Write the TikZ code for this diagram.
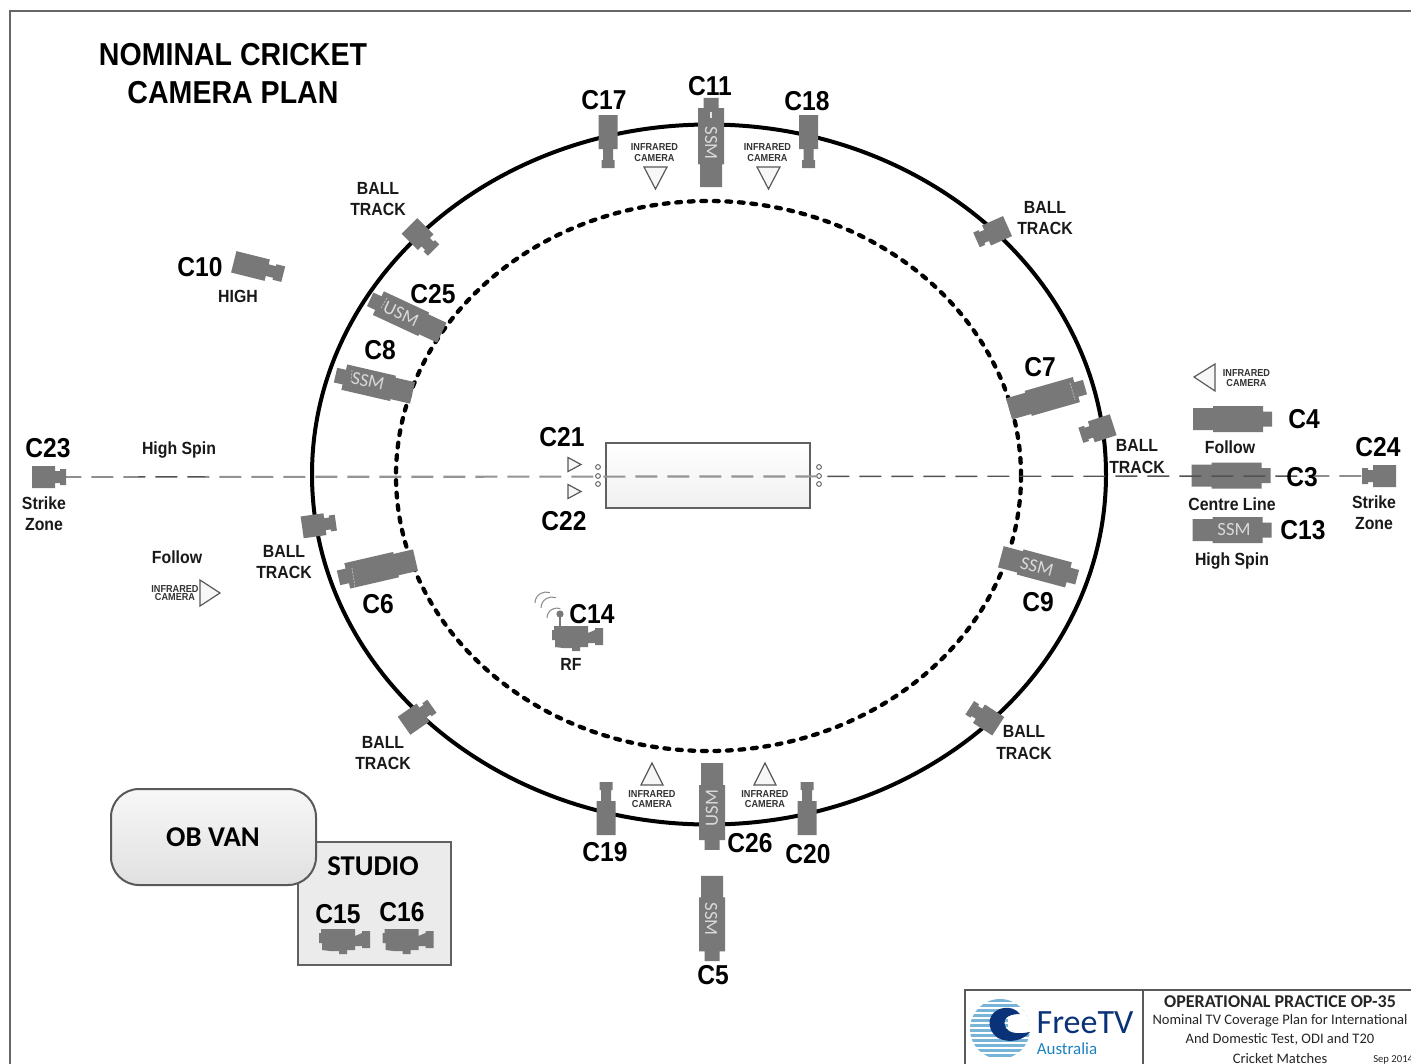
\documentclass[tikz,border=0pt]{standalone}
\usepackage{fontspec}
\setmainfont{Liberation Sans}
\newfontfamily\arn[FakeStretch=0.9]{Liberation Sans}
\newfontfamily\crl{Carlito}
\definecolor{camgray}{gray}{0.47}
\definecolor{fvblue}{RGB}{10,50,120}
\definecolor{fvsky}{RGB}{30,130,190}
\newcommand{\fsz}[2]{\fontsize{#1pt}{#2pt}\selectfont}
\tikzset{
 x=0.75pt,y=-0.75pt,
 bigl/.style={font=\arn\bfseries\fsz{20.5}{22},text=black,inner sep=0pt},
 medl/.style={font=\arn\bfseries\fsz{13.2}{15.8},text=black!90,inner sep=0pt,align=center},
 irl/.style={font=\arn\bfseries\fsz{7.6}{7.6},text=black!80,inner sep=0pt,align=center},
 camtxt/.style={font=\crl\fsz{14}{14},text=white!85!black,inner sep=0pt},
 camfill/.style={fill=camgray,draw=none},
 seam/.style={draw=white,opacity=0.6,line width=0.5pt,dash pattern=on 1.5pt off 1pt},
 tri/.style={draw=black!65,line width=0.9pt,fill=black!3,line join=miter},
 outerring/.style={draw=black,line width=3pt},
 innerring/.style={draw=black,line width=3.2pt,line cap=round,dash pattern=on 3.6pt off 5.8pt},
 centredark/.style={draw=black!68,line width=1.05pt,dash pattern=on 16.5pt off 7.5pt,dash phase=5pt},
 centrelight/.style={draw=black!42,line width=1.6pt,dash pattern=on 16.5pt off 7.5pt,dash phase=5pt},
 boxedge/.style={draw=black!62,line width=1.1pt},
 dotring/.style={draw=black!62,line width=0.7pt,fill=white},
 titl/.style={font=\crl\fsz{10.9}{14},text=black!85,inner sep=0pt},
}
% long camera: stretch, centre, lens direction
\newcommand{\longcam}[4][1]{\begin{scope}[shift={(#2,#3)},rotate=#4,xscale=#1]
 \path[camfill] (-39.5,-11)--(-19.5,-11)--(-19.5,-13)--(30.5,-13)--(30.5,-7.5)--(39.5,-7.5)--(39.5,7.5)--(30.5,7.5)--(30.5,13)--(-19.5,13)--(-19.5,11)--(-39.5,11)--cycle;
 \end{scope}}
% tall narrow camera on the boundary
\newcommand{\rimcam}[3]{\begin{scope}[shift={(#1,#2)},rotate=#3]
 \path[camfill] (-26.5,-9.5)--(7.5,-9.5)--(7.5,-5)--(18.5,-5)--(18.5,-6.5)--(26.5,-6.5)--(26.5,6.5)--(18.5,6.5)--(18.5,5)--(7.5,5)--(7.5,9.5)--(-26.5,9.5)--cycle;
 \end{scope}}
% short stubby camera
\newcommand{\stubcam}[4][1]{\begin{scope}[shift={(#2,#3)},rotate=#4,xscale=#1]
 \path[camfill] (-17,-11)--(6,-11)--(6,-6)--(11,-6)--(11,-8)--(17,-8)--(17,8)--(11,8)--(11,6)--(6,6)--(6,11)--(-17,11)--cycle;
 \end{scope}}
% hand camcorder
\newcommand{\handcam}[2]{\begin{scope}[shift={(#1,#2)}]
 \path[camfill] (-23,-12)--(11,-12)--(11,-5)--(18,-8)--(18,-10)--(26,-10)--(26,7)--(18,7)--(18,5)--(11,5)--(11,9)--(3,9)--(3,13)--(-5,13)--(-5,10)--(-14,10)--(-22,9)--(-22,2)--(-25,2)--(-25,-8)--(-23,-8)--cycle;
 \end{scope}}
\newcommand{\irtri}[6]{\path[tri] (#1,#2)--(#3,#4)--(#5,#6)--cycle;}
\begin{document}
\begin{tikzpicture}
\useasboundingbox (0,0) rectangle (1411,1064);
\clip (0,0) rectangle (1411,1064);
\fill[white] (0,0) rectangle (1411,1064);
% frame
\draw[black!60,line width=0.9pt] (10,1064)--(10,11)--(1411,11);
% title
\node[font=\arn\bfseries\fsz{23.8}{28.5},align=center,inner sep=0pt] (title) at (233,74) {NOMINAL CRICKET\\CAMERA PLAN};
% rings
\draw[outerring] (709,474.5) ellipse [x radius=397,y radius=350];
\draw[innerring] (708.5,476) ellipse [x radius=312.5,y radius=275];
% pitch
\path[top color=white,bottom color=black!6,middle color=black!3,boxedge] (606,443) rectangle (810,508);
\foreach \yy in {467,476,484}{
 \draw[dotring] (598,\yy) circle [radius=2.4];
 \draw[dotring] (819,\yy) circle [radius=2.4];
}
% long cameras
\longcam{1232.5}{419}{0}
\longcam{1231}{475.5}{0}
\longcam{1232}{530}{0}
\longcam{1047}{398}{16}
\longcam{1039}{567}{-15}
\longcam{377}{569}{193}
\longcam{374}{384}{167}
\longcam{406}{316}{155}
\longcam[1.127]{711}{142.5}{90}
\longcam[1.10]{712}{806.5}{-90}
\longcam[1.08]{712}{918.5}{-90}
% lens seams
\draw[seam] (387,298)--(381,308);
\draw[seam] (352,370)--(351,382);
\draw[seam] (1070,383)--(1075,400);
\draw[seam] (352,568)--(355,587);
\draw[white,opacity=0.8,line width=0.8pt] (711,112)--(711,118);
% rim cameras
\rimcam{608}{141.5}{-90}
\rimcam{808.5}{141.5}{-90}
\rimcam{606}{808.5}{90}
\rimcam{807}{808.5}{90}
% stub cameras
\stubcam{49}{477}{0}
\stubcam{1379}{476}{180}
\stubcam{421.5}{238}{-45}
\stubcam{992}{233}{204}
\stubcam{1097}{430}{198}
\stubcam{319}{525}{8}
\stubcam{418}{716}{35}
\stubcam{984}{717}{147}
\stubcam[1.5]{258.5}{268}{-14}
% RF camera
\handcam{577}{638}
\draw[camgray,line width=1pt] (560,626)--(560,614);
\fill[camgray] (560,614) circle [radius=3.6];
\draw[black!45,line width=0.8pt] (547,618) arc [start angle=180,end angle=290,radius=10];
\draw[black!45,line width=0.8pt] (541,608) arc [start angle=180,end angle=290,radius=11];
\draw[black!45,line width=0.8pt] (535,603) arc [start angle=180,end angle=290,radius=11];
% infrared marks
\irtri{644}{167}{667}{167}{655.5}{189}
\irtri{757}{167}{780}{167}{768.5}{189}
\irtri{641}{785}{663}{785}{652}{763}
\irtri{754}{785}{776}{785}{765}{763}
\irtri{200}{580}{200}{606}{220}{593}
\irtri{1215}{364}{1215}{391}{1194}{377}
\irtri{568}{457.5}{568}{471.5}{581}{464.5}
\irtri{568}{484.5}{568}{498.5}{581}{491.5}
% centre line
\coordinate (lensA) at (66,477);
\coordinate (lensB) at (1362,476);
\begin{scope}
 \clip (0,400) rectangle (205,550) (825,400) rectangle (1411,550);
 \draw[centredark] (lensA)--(lensB);
\end{scope}
\begin{scope}
 \clip (205,400) rectangle (825,550);
 \draw[centrelight] (lensA)--(lensB);
\end{scope}
% labels on cameras
\node[camtxt,rotate=-90] (tssmA) at (711,143) {SSM};
\node[camtxt,rotate=90] (tusm) at (712,808) {USM};
\node[camtxt,rotate=-90] (tssmB) at (711,919) {SSM};
\node[camtxt] (tssmC) at (1234,530) {SSM};
\node[camtxt,rotate=-15] (tssmD) at (1037,567) {SSM};
\node[camtxt,rotate=-13] (tssmE) at (368,381) {SSM};
\node[camtxt,rotate=-25] (tusmB) at (401,314) {USM};
% big labels
\node[bigl] (c17) at (604,100) {C17};
\node[bigl] (c11) at (710,86) {C11};
\node[bigl] (c18) at (807,101) {C18};
\node[bigl] (c10) at (200,267) {C10};
\node[bigl] (c25) at (433,294) {C25};
\node[bigl] (c8) at (380,350) {C8};
\node[bigl] (c7) at (1040,367) {C7};
\node[bigl] (c4) at (1304,419) {C4};
\node[bigl] (c24) at (1378,447) {C24};
\node[bigl] (c23) at (48,448) {C23};
\node[bigl] (c21) at (562,437) {C21};
\node[bigl] (c22) at (564,521) {C22};
\node[bigl] (c3) at (1302,477) {C3};
\node[bigl] (c13) at (1303,530) {C13};
\node[bigl] (c9) at (1038,602) {C9};
\node[bigl] (c6) at (378,604) {C6};
\node[bigl] (c14) at (592,614) {C14};
\node[bigl] (c19) at (605,852) {C19};
\node[bigl] (c26) at (750,843) {C26};
\node[bigl] (c20) at (808,854) {C20};
\node[bigl] (c5) at (713,975) {C5};
% medium labels
\node[medl] (high) at (238,296) {HIGH};
\node[medl] (bt1) at (378,199) {BALL\\TRACK};
\node[medl] (bt2) at (1045,218) {BALL\\TRACK};
\node[medl] (bt3) at (1137,456.5) {BALL\\TRACK};
\node[medl] (bt4) at (284,562) {BALL\\TRACK};
\node[medl] (bt5) at (383,753) {BALL\\TRACK};
\node[medl] (bt6) at (1024,742.5) {BALL\\TRACK};
\node[medl] (hs) at (179,450) {High Spin};
\node[medl] (fl) at (177,557) {Follow};
\node[medl] (szA) at (44,514) {Strike\\Zone};
\node[medl] (szB) at (1374,512.5) {Strike\\Zone};
\node[medl] (fl2) at (1230,447) {Follow};
\node[medl] (cl) at (1232,504) {Centre Line};
\node[medl] (hs2) at (1232,560.5) {High Spin};
\node[medl] (rf) at (571,664) {RF};
% infrared labels
\node[irl] (irA) at (654.5,152.5) {INFRARED\\CAMERA};
\node[irl] (irB) at (767.5,152.5) {INFRARED\\CAMERA};
\node[irl] (irC) at (652,799) {INFRARED\\CAMERA};
\node[irl] (irD) at (765,799) {INFRARED\\CAMERA};
\node[irl] (irE) at (1246.5,378) {INFRARED\\CAMERA};
\node[irl,font=\arn\bfseries\fsz{7.6}{6}] (irF) at (175,593) {INFRARED\\CAMERA};
% studio and OB van
\path[draw=black!62,line width=1.5pt,fill=black!8] (298,842) rectangle (451,965);
\path[draw=black!65,line width=1.5pt,top color=black!3,bottom color=black!12,rounded corners=21pt] (111,789) rectangle (316,885);
\node[font=\crl\bfseries\fsz{21.5}{24},inner sep=0pt] (obvan) at (213,837) {OB VAN};
\node[font=\crl\bfseries\fsz{21.5}{24},inner sep=0pt] (studio) at (373,866) {STUDIO};
\node[bigl] (c15) at (338,914) {C15};
\node[bigl] (c16) at (402,912) {C16};
\handcam{344}{941}
\handcam{407.5}{941}
% title block
\draw[black!65,line width=0.9pt] (1411,990)--(965,990)--(965,1064);
\draw[black!65,line width=0.9pt] (1143,990)--(1143,1064);
% logo
\begin{scope}
 \clip (1000,1029) circle [radius=30];
 \foreach \yy in {999,1004,...,1059}{
  \fill[fvsky!60!white] (968,\yy) rectangle (1032,\yy+2.6);
 }
 \fill[white] (1008,1009) rectangle (1032,1034);
\end{scope}
\fill[fvblue] (1004,1008) .. controls (988,1010) and (984,1028) .. (998,1038) .. controls (1010,1044) and (1024,1040) .. (1030,1032) .. controls (1020,1034) and (1010,1034) .. (1006,1028) .. controls (1002,1020) and (1006,1014) .. (1020,1014) .. controls (1016,1009) and (1010,1007) .. (1004,1008) -- cycle;
\node[font=\crl\fsz{25.5}{28},text=fvblue,inner sep=0pt] (freetv) at (1085,1023) {FreeTV};
\node[font=\crl\fsz{12.7}{14},text=fvsky,inner sep=0pt] (aus) at (1067,1049) {Australia};
\node[titl,font=\crl\bfseries\fsz{13.5}{14}] (opa) at (1280,1002) {OPERATIONAL PRACTICE OP-35};
\node[titl] (opb) at (1280,1021) {Nominal TV Coverage Plan for International};
\node[titl] (opc) at (1280,1039.5) {And Domestic Test, ODI and T20};
\node[titl] (opd) at (1280,1058) {Cricket Matches};
\node[titl,font=\crl\fsz{8}{9},anchor=west] (ope) at (1373,1060) {Sep 2014};
\end{tikzpicture}
\end{document}
